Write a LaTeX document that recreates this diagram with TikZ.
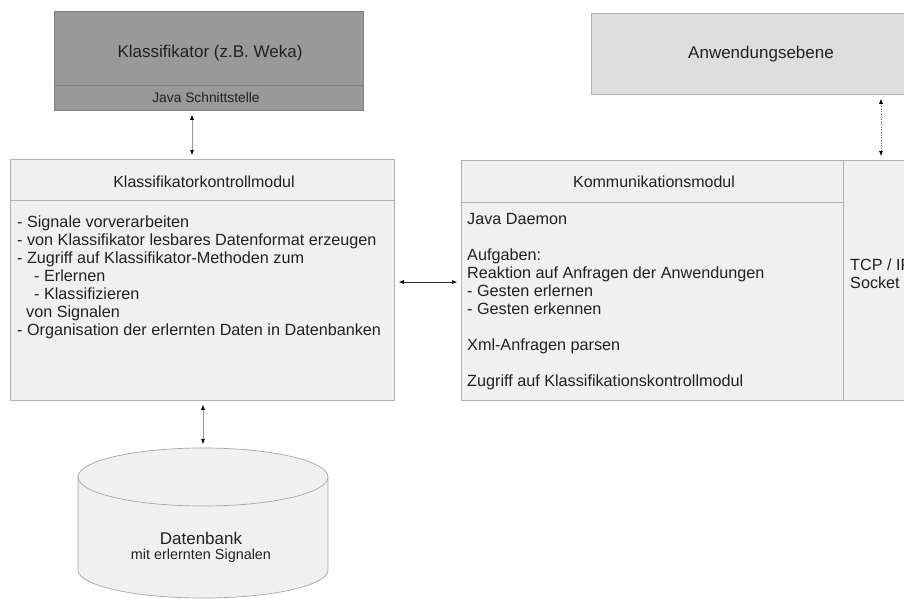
\documentclass[tikz,border=0pt]{standalone}
\usepackage{fontspec}
\setmainfont{Liberation Sans}
\usetikzlibrary{arrows.meta,calc}
\begin{document}
\begin{tikzpicture}[x=1pt,y=-1pt,
  box/.style={draw=black!30,fill=black!6,line width=0.8pt,inner sep=0pt,anchor=north west},
  darkbox/.style={draw=black!50,fill=black!40,line width=0.8pt,inner sep=0pt,anchor=north west},
  midbox/.style={draw=black!30,fill=black!13,line width=0.8pt,inner sep=0pt,anchor=north west},
  txt/.style={text=black!87,inner sep=0pt},
  body/.style={txt,align=left,anchor=north west,font=\fontsize{16.2}{18}\selectfont},
  link/.style={draw=black!40,line width=0.6pt,{Latex[length=5pt,width=4pt,black]}-{Latex[length=5pt,width=4pt,black]},shorten <=4pt,shorten >=4pt}]
\useasboundingbox (0,0) rectangle (904,599);

% classifier box with its Java interface strip
\node[darkbox,minimum width=309pt,minimum height=99pt] (klass) at (54,11) {};
\draw[black!50,line width=0.8pt] ($(klass.south west)+(0,-25)$) -- ($(klass.south east)+(0,-25)$);
\node[txt,font=\fontsize{17}{20}\selectfont] (klasst) at (210,53) {Klassifikator (z.B. Weka)};
\node[txt,font=\fontsize{13.8}{16}\selectfont] (javas) at (206,98) {Java Schnittstelle};

% classifier control module
\node[box,minimum width=384pt,minimum height=241pt] (kkm) at (10,159) {};
\draw[black!30,line width=0.8pt] ($(kkm.north west)+(0,41)$) -- ($(kkm.north east)+(0,41)$);
\node[txt,font=\fontsize{16}{18}\selectfont] (kkmt) at (204,182) {Klassifikatorkontrollmodul};
\node[body] (kkmb) at (17,216) {- Signale vorverarbeiten\\
- von Klassifikator lesbares Datenformat erzeugen\\
- Zugriff auf Klassifikator-Methoden zum\\
\hspace*{17pt}- Erlernen\\
\hspace*{17pt}- Klassifizieren\\
\hspace*{9pt}von Signalen\\
- Organisation der erlernten Daten in Datenbanken};

% communication module
\node[box,minimum width=382pt,minimum height=240pt] (komm) at (461,160) {};
\draw[black!30,line width=0.8pt] ($(komm.north west)+(0,42)$) -- ($(komm.north east)+(0,42)$);
\node[txt,font=\fontsize{16}{18}\selectfont] (kommt) at (654,182) {Kommunikationsmodul};
\node[body] (kommb) at (467,213) {Java Daemon\\[18pt]
Aufgaben:\\
Reaktion auf Anfragen der Anwendungen\\
- Gesten erlernen\\
- Gesten erkennen\\[18pt]
Xml-Anfragen parsen\\[18pt]
Zugriff auf Klassifikationskontrollmodul};

% socket layer
\node[box,minimum width=80pt,minimum height=240pt] (sock) at (843,160) {};
\node[body] (sockt) at (850,259) {TCP / IP\\Socket};

% application layer
\node[midbox,minimum width=330pt,minimum height=81pt] (anw) at (591,13) {};
\node[txt,font=\fontsize{17}{20}\selectfont] (anwt) at (761,54) {Anwendungsebene};

% database cylinder
\coordinate (dbtop) at (203,448);
\fill[black!6] (78,477) -- (78,570) arc[start angle=180,end angle=0,x radius=125,y radius=28] -- (328,477) -- cycle;
\fill[black!6] (203,477) ellipse[x radius=125,y radius=29];
\draw[black!35,line width=0.7pt] (203,477) ellipse[x radius=125,y radius=29];
\draw[black!35,line width=0.7pt] (78,477) -- (78,570) arc[start angle=180,end angle=0,x radius=125,y radius=28] -- (328,477);
\node[txt,font=\fontsize{17}{20}\selectfont] (dbt) at (201,538) {Datenbank};
\node[txt,font=\fontsize{14.4}{16}\selectfont] (dbs) at (201,556) {mit erlernten Signalen};

% connectors
\draw[link] (klass.south -| 192,0) -- (kkm.north -| 192,0);
\draw[link] (kkm.south -| 203,0) -- (dbtop);
\draw[link,draw=black!80] (kkm.east |- 0,282) -- (komm.west |- 0,282);
\draw[link,dotted,draw=black!60] (anw.south -| 881,0) -- (sock.north -| 881,0);
\end{tikzpicture}
\end{document}
